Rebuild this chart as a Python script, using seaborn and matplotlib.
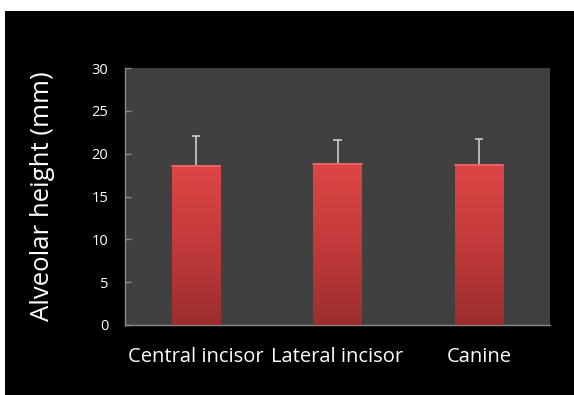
import numpy as np
import pandas as pd
import seaborn as sns
import matplotlib.pyplot as plt
from matplotlib.patches import Rectangle

# data
teeth = ["Central incisor", "Lateral incisor", "Canine"]
heights = [18.7, 18.9, 18.8]
sd_upper = [3.35, 2.7, 2.9]
y_ticks = [0, 5, 10, 15, 20, 25, 30]

df = pd.DataFrame({"tooth": teeth, "height": heights})

sns.set_style("dark")
plt.rcParams['font.family'] = ['Open Sans', 'DejaVu Sans']

fig = plt.figure(figsize=(5.74, 3.95), dpi=100)
fig.patch.set_facecolor("white")
# black slide background, with thin white strip at top/left
fig.patches.append(Rectangle((5 / 574, 0), 1, 384 / 395, transform=fig.transFigure,
                             facecolor="black", edgecolor="none", zorder=-10))

ax = fig.add_axes([125 / 574, 1 - 325 / 395, 425 / 574, 257 / 395])
ax.set_facecolor("#404040")

sns.barplot(data=df, x="tooth", y="height", color="#d94040", width=0.34,
            edgecolor="none", ax=ax, zorder=2)

# vertical red gradient on each bar
grad = np.linspace(0, 1, 256).reshape(-1, 1)
cmap = sns.blend_palette(["#9c2e2e", "#c23a3a", "#de4646"], as_cmap=True)
for p in ax.patches:
    x0, y0 = p.get_x(), p.get_y()
    w, h = p.get_width(), p.get_height()
    im = ax.imshow(grad, extent=[x0, x0 + w, y0, y0 + h], origin="lower",
                   cmap=cmap, aspect="auto", zorder=3)
    im.set_clip_path(p)
    # light top edge
    ax.plot([x0, x0 + w], [y0 + h - 0.15, y0 + h - 0.15], color="#ee6a6a", lw=1.2, zorder=4)

# upper-only error bars
xs = np.arange(len(teeth))
tops = np.array(heights) + np.array(sd_upper)
ax.vlines(xs, heights, tops, color="#d8d8d8", lw=1.1, zorder=5)
ax.hlines(tops, xs - 0.03, xs + 0.03, color="#d8d8d8", lw=1.1, zorder=5)

ax.set_xlim(-0.5, 2.5)
ax.set_ylim(0, 30)
ax.set_yticks(y_ticks)
ax.set_yticklabels([str(t) for t in y_ticks], color="white", fontsize=10.5)
ax.set_xticks(xs)
ax.set_xticklabels(teeth, color="white", fontsize=14.5)
ax.tick_params(axis="y", direction="in", length=4, color="#8a8a8a", width=1, pad=12, left=True)
ax.tick_params(axis="x", length=0, pad=16)
ax.set_xlabel("")
ax.set_ylabel("Alveolar height (mm)", color="white", fontsize=18.5, labelpad=26)
ax.grid(False)

for side in ["top", "right"]:
    ax.spines[side].set_visible(False)
for side in ["left", "bottom"]:
    ax.spines[side].set_visible(True)
    ax.spines[side].set_color("#8a8a8a")
    ax.spines[side].set_linewidth(1)

fig.savefig("out.png", dpi=100, facecolor=fig.get_facecolor())
